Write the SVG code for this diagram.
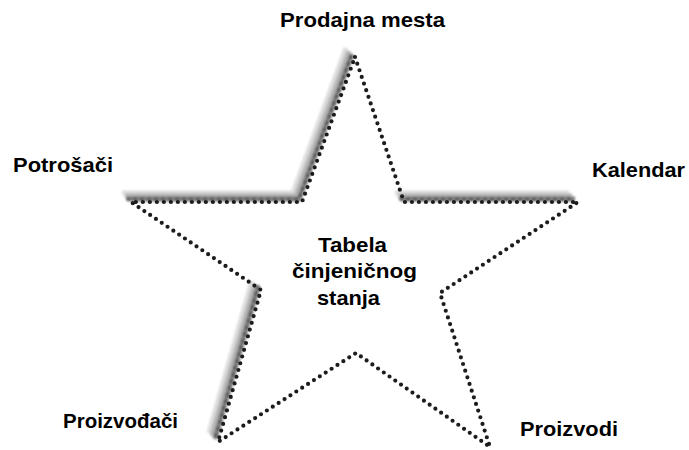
<svg xmlns="http://www.w3.org/2000/svg" width="689" height="450" viewBox="0 0 689 450">
<defs>
<style>
.lbl{font-family:"Liberation Sans",Arial,sans-serif;font-weight:bold;font-size:21px;fill:#000}
.dots{fill:none;stroke:#1e1e1e;stroke-width:4.2;stroke-linecap:round;stroke-linejoin:round;stroke-dasharray:0 7}
.band{fill:none;stroke-linecap:butt;stroke-linejoin:miter}
.bdots{fill:none;stroke-linecap:round;stroke-linejoin:round;stroke-dasharray:0 7}
</style>
<filter id="soft" x="-5%" y="-5%" width="110%" height="110%"><feGaussianBlur stdDeviation="0.5"/></filter>
<filter id="softer" x="-5%" y="-5%" width="110%" height="110%"><feGaussianBlur stdDeviation="0.8"/></filter>
</defs>
<rect width="689" height="450" fill="#fff"/>
<g id="star">
  <g id="shading" filter="url(#softer)">
    <g transform="translate(-9,-9)">
      <polyline class="band" stroke="#dcdcdc" stroke-width="5" points="131,202 302,202 355,57"/>
      <polyline class="band" stroke="#dcdcdc" stroke-width="5" points="404,202 578,202"/>
      <polyline class="band" stroke="#dcdcdc" stroke-width="5" points="261,290 218,442"/>
    </g>
    <g transform="translate(-6,-6)">
      <polyline class="band" stroke="#b4b4b4" stroke-width="5" points="131,202 302,202 355,57"/>
      <polyline class="band" stroke="#b4b4b4" stroke-width="5" points="404,202 578,202"/>
      <polyline class="band" stroke="#b4b4b4" stroke-width="5" points="261,290 218,442"/>
    </g>
    <g transform="translate(-3,-3)">
      <polyline class="band" stroke="#7c7c7c" stroke-width="5" points="131,202 302,202 355,57"/>
      <polyline class="band" stroke="#7c7c7c" stroke-width="5" points="404,202 578,202"/>
      <polyline class="band" stroke="#7c7c7c" stroke-width="5" points="261,290 218,442"/>
      <polyline class="bdots" stroke="#555" stroke-width="4" points="131,202 302,202 355,57"/>
      <polyline class="bdots" stroke="#555" stroke-width="4" points="404,202 578,202"/>
      <polyline class="bdots" stroke="#555" stroke-width="4" points="261,290 218,442"/>
    </g>
  </g>
  <polygon class="dots" filter="url(#soft)" points="355,57 404,202 578,202 440,293 490,447 356,353 218,442 261,290 131,202 302,202"/>
</g>
<g id="label-prodajna-mesta"><text class="lbl" x="280" y="27" textLength="165" lengthAdjust="spacingAndGlyphs">Prodajna mesta</text></g>
<g id="label-potrosaci"><text class="lbl" x="13" y="172" textLength="100" lengthAdjust="spacingAndGlyphs">Potrošači</text></g>
<g id="label-kalendar"><text class="lbl" x="592" y="177" textLength="93" lengthAdjust="spacingAndGlyphs">Kalendar</text></g>
<g id="label-proizvodjaci"><text class="lbl" x="63" y="428" textLength="115" lengthAdjust="spacingAndGlyphs">Proizvođači</text></g>
<g id="label-proizvodi"><text class="lbl" x="520" y="436" textLength="98" lengthAdjust="spacingAndGlyphs">Proizvodi</text></g>
<g id="label-center">
  <text class="lbl" x="318" y="252" textLength="69" lengthAdjust="spacingAndGlyphs">Tabela</text>
  <text class="lbl" x="292" y="278" textLength="125" lengthAdjust="spacingAndGlyphs">činjeničnog</text>
  <text class="lbl" x="317" y="305" textLength="63" lengthAdjust="spacingAndGlyphs">stanja</text>
</g>
</svg>
